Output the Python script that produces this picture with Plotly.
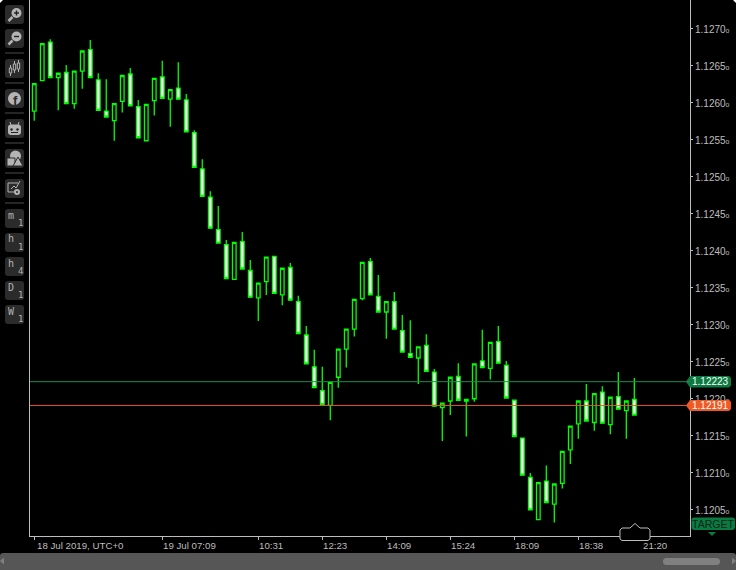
import plotly.graph_objects as go

W, H = 736, 570
opens = [1.12588,1.12629,1.12681,1.12633,1.12640,1.12598,1.12642,1.12671,1.12630,1.12588,1.12575,1.12601,1.12638,1.12594,1.12548,1.12602,1.12634,1.12604,1.12619,1.12603,
1.12559,1.12510,1.12472,1.12428,1.12408,1.12361,1.12412,1.12373,1.12336,1.12358,1.12392,1.12340,1.12377,1.12331,1.12286,1.12243,1.12211,1.12191,1.12229,1.12267,
1.12294,1.12335,1.12385,1.12338,1.12317,1.12331,1.12292,1.12261,1.12255,1.12272,1.12236,1.12188,1.12197,1.12230,1.12197,1.12200,1.12251,1.12241,1.12277,1.12245,
1.12198,1.12147,1.12094,1.12037,1.12089,1.12058,1.12086,1.12131,1.12166,1.12197,1.12168,1.12209,1.12165,1.12203,1.12184,1.12199]
closes = [1.12625,1.12679,1.12633,1.12639,1.12598,1.12642,1.12669,1.12633,1.12589,1.12580,1.12598,1.12636,1.12595,1.12552,1.12597,1.12632,1.12605,1.12617,1.12604,1.12560,
1.12512,1.12473,1.12430,1.12410,1.12362,1.12411,1.12375,1.12337,1.12356,1.12391,1.12342,1.12376,1.12333,1.12288,1.12247,1.12215,1.12192,1.12222,1.12267,1.12294,
1.12334,1.12384,1.12340,1.12317,1.12331,1.12294,1.12263,1.12256,1.12270,1.12237,1.12190,1.12194,1.12229,1.12198,1.12199,1.12247,1.12242,1.12276,1.12248,1.12201,
1.12149,1.12097,1.12050,1.12087,1.12060,1.12085,1.12129,1.12163,1.12197,1.12170,1.12207,1.12167,1.12202,1.12186,1.12197,1.12178]
highs = [1.12625,1.12679,1.12685,1.12639,1.12650,1.12642,1.12669,1.12684,1.12639,1.12631,1.12598,1.12636,1.12646,1.12603,1.12597,1.12632,1.12656,1.12617,1.12654,1.12611,
1.12562,1.12523,1.12480,1.12460,1.12414,1.12411,1.12425,1.12387,1.12356,1.12391,1.12392,1.12376,1.12383,1.12339,1.12298,1.12266,1.12243,1.12222,1.12267,1.12294,
1.12334,1.12384,1.12390,1.12367,1.12331,1.12344,1.12313,1.12306,1.12270,1.12287,1.12240,1.12194,1.12229,1.12248,1.12199,1.12247,1.12293,1.12276,1.12298,1.12251,
1.12199,1.12147,1.12100,1.12087,1.12110,1.12085,1.12129,1.12163,1.12197,1.12220,1.12207,1.12217,1.12202,1.12236,1.12197,1.12228]
lows = [1.12575,1.12629,1.12633,1.12589,1.12598,1.12591,1.12618,1.12633,1.12589,1.12580,1.12548,1.12586,1.12595,1.12552,1.12547,1.12582,1.12605,1.12567,1.12604,1.12560,
1.12512,1.12473,1.12430,1.12410,1.12362,1.12361,1.12375,1.12337,1.12305,1.12340,1.12342,1.12326,1.12333,1.12288,1.12247,1.12215,1.12192,1.12171,1.12215,1.12242,
1.12284,1.12333,1.12340,1.12317,1.12281,1.12294,1.12263,1.12256,1.12220,1.12237,1.12190,1.12143,1.12178,1.12198,1.12149,1.12196,1.12242,1.12226,1.12248,1.12201,
1.12149,1.12097,1.12050,1.12037,1.12060,1.12033,1.12079,1.12112,1.12146,1.12170,1.12157,1.12167,1.12152,1.12186,1.12146,1.12178]
candles = list(range(len(opens)))

price_ticks = [1.1270,1.1265,1.1260,1.1255,1.1250,1.1245,1.1240,1.1235,1.1230,1.1225,1.1220,1.1215,1.1210,1.1205]
price_labels = [f"{p:.4f}<span style='font-size:7px'>o</span>" for p in price_ticks]
time_ticks = [0,16,28,36,44,52,60,68,76]
time_labels = ["18 Jul 2019, UTC+0","19 Jul 07:09","10:31","12:23","14:09","15:24","18:09","18:38","21:20"]
bid, ask = 1.12191, 1.12223
buttons = [("m","1"),("h","1"),("h","4"),("D","1"),("W","1")]

GREY = "#bdbdbd"
FONT = "Liberation Sans"
px = lambda v: v / W
py = lambda v: 1 - v / H
def P(x, y): return f"{px(x):.5f} {py(y):.5f}"
def path(points, close=True):
    return "M " + " L ".join(P(*p) for p in points) + (" Z" if close else "")
def rrect(x0, y0, x1, y1, r):
    k = r
    return (f"M {P(x0+k,y0)} L {P(x1-k,y0)} Q {P(x1,y0)} {P(x1,y0+k)} L {P(x1,y1-k)} Q {P(x1,y1)} {P(x1-k,y1)} "
            f"L {P(x0+k,y1)} Q {P(x0,y1)} {P(x0,y1-k)} L {P(x0,y0+k)} Q {P(x0,y0)} {P(x0+k,y0)} Z")

shapes, notes = [], []
def add(p, fill="rgba(0,0,0,0)", line=None, lw=1, layer="above"):
    shapes.append(dict(type="path", xref="paper", yref="paper", path=p, fillcolor=fill,
                       line=dict(color=line or "rgba(0,0,0,0)", width=lw if line else 0), layer=layer))
def seg(x0, y0, x1, y1, c, lw=1):
    add(path([(x0,y0),(x1,y1)], False), line=c, lw=lw)
def circ(cx, cy, r, fill=None, line=None, lw=1):
    shapes.append(dict(type="circle", xref="paper", yref="paper", x0=px(cx-r), x1=px(cx+r), y0=py(cy+r), y1=py(cy-r),
                       fillcolor=fill or "rgba(0,0,0,0)", line=dict(color=line or "rgba(0,0,0,0)", width=lw if line else 0), layer="above"))
def text(x, y, s, size=10, color=GREY, anchor="center", fam=FONT, **kw):
    notes.append(dict(xref="paper", yref="paper", x=px(x), y=py(y), text=s, showarrow=False, xanchor=anchor, yanchor="middle",
                      font=dict(family=fam, size=size, color=color), borderpad=0, **kw))

# toolbar
BTN, ICON, SEP = "#2b2b2b", "#b4b4b4", "#4a4a4a"
for y in [5,29,59,89,119,149,179,209,233,257,281,305]:
    add(rrect(5,y,24,y+19,3), fill=BTN)
for y in [53,83,113,143,173,203]:
    seg(5,y,24,y,SEP)
for cy, minus in [(13,False),(36.5,True)]:
    circ(16.5,cy,5,fill=ICON)
    seg(12.5,cy+4,8.5,cy+8,ICON,2.5)
    seg(14,cy,19,cy,"#222",1.4)
    if not minus: seg(16.5,cy-2.5,16.5,cy+2.5,"#222",1.4)
for x,t,b,lo,hi in [(10.5,68,73,65,76),(14.5,64,70,61,73),(18.5,63,69,60,72)]:
    seg(x,lo,x,hi,ICON,1); add(path([(x-1.2,t),(x+1.2,t),(x+1.2,b),(x-1.2,b)]),fill=BTN,line=ICON)
circ(14.5,98.5,6.5,fill=ICON)
text(15,100,"<b>f</b>",13,"#2b2b2b",fam="Liberation Sans")
add(rrect(8,124.5,21,135,3),fill=ICON)
seg(10,122,11,125,ICON); seg(19,122,18,125,ICON)
circ(11.5,129.5,1.2,fill="#222"); circ(17.5,129.5,1.2,fill="#222")
seg(11,132.5,18,132.5,"#222")
circ(15.5,156,5.5,fill=ICON)
add(path([(7,158),(15,158),(15,166),(7,166)]),fill=ICON,line=BTN)
add(path([(13,166),(18,157),(23,166)]),fill=ICON,line=BTN)
add(path([(8,183),(8,192),(14,192)],False),line=ICON)
add(path([(8,183),(18,183)],False),line=ICON)
add(path([(11,189),(14,186),(16,188),(20,181)],False),line=ICON)
circ(17,192,3,fill=ICON); circ(17,192,1,fill="#222")
for (a,b),y in zip(buttons,[209,233,257,281,305]):
    text(11,y+6,a,10,ICON,fam="DejaVu Sans Mono")
    text(20,y+14,b,9,ICON,fam="DejaVu Sans Mono")

# price tags
for y0,y1,fc,s in [(376,387.5,"#0d7a41",f"{ask:.5f}"),(400,411,"#ef5a24",f"{bid:.5f}")]:
    mid=(y0+y1)/2
    add(path([(686,mid),(690,y0),(729,y0),(731,y0+2),(731,y1-2),(729,y1),(690,y1)]),fill=fc)
    text(710,mid,s,10,"#ffffff")
# target tag
add(rrect(691.5,517.5,735,530,2.5),fill="#0b7a40")
text(713,524,"TARGET",10.5,"#04261a")
add(path([(708,532),(716,532),(712,536)]),fill="#0b7a40")
# navigator handle
add(path([(622,528),(630,528),(635,523.5),(640,528),(648,528),(650,530),(650,539),(648,540.5),(622,540.5),(620,539),(620,530)]),fill="#000000",line=GREY)
# bottom bar
add(rrect(0,553,736,575,3),fill="#565656")
add(rrect(663,558,720,565,3.5),fill="#808080")
add(path([(4,557.5),(4,564.5),(0,561)]),fill="#808080")
add(path([(732,557.5),(732,564.5),(736,561)]),fill="#808080")
# window corners
add(path([(0,0),(3,0),(0,3)]),fill="#ffffff")
add(path([(733,0),(736,0),(736,3)]),fill="#ffffff")

# level lines
for lv,c in [(ask,"#1f8a50"),(bid,"#e2592a")]:
    shapes.append(dict(type="line", xref="x domain", yref="y", x0=0, x1=1, y0=lv, y1=lv, line=dict(color=c,width=1), layer="above"))

# time labels (left aligned next to the tick, via the axis scale)
for i,(t,s) in enumerate(zip(time_ticks,time_labels)):
    notes.append(dict(xref="x", yref="paper", x=t, y=py(545.5), text=s, showarrow=False, xanchor="left", yanchor="middle", xshift=2 if i==0 else 0,
                      font=dict(family=FONT,size=9.7,color=GREY), borderpad=0))

fig = go.Figure(go.Candlestick(x=candles, open=opens, high=highs, low=lows, close=closes,
    increasing=dict(line=dict(color="#00ff00",width=1.3), fillcolor="#000000"),
    decreasing=dict(line=dict(color="#00ff00",width=1.3), fillcolor="#ffffff"),
    whiskerwidth=0, hoverinfo="skip"))
fig.update_layout(width=W, height=H, margin=dict(l=0,r=0,t=0,b=0,pad=0), autosize=False,
    paper_bgcolor="#000000", plot_bgcolor="#000000", showlegend=False, shapes=shapes, annotations=notes, boxgap=0.35,
    xaxis=dict(domain=[30/W,690/W], range=[-0.53,81.96], rangeslider=dict(visible=False), showgrid=False, zeroline=False,
               showline=True, linecolor=GREY, linewidth=1, ticks="outside", ticklen=3, tickcolor=GREY,
               tickvals=time_ticks, ticktext=[""]*len(time_ticks)),
    yaxis=dict(domain=[1-536/H,1], range=[1.120149,1.127378], side="right", showgrid=False, zeroline=False,
               showline=True, mirror=True, linecolor=GREY, linewidth=1, ticks="outside", ticklen=2, tickcolor=GREY,
               ticklabelshift=1, tickvals=price_ticks, ticktext=price_labels, tickfont=dict(family=FONT,size=10,color=GREY)))
fig.write_html("out.html", config=dict(displayModeBar=False, staticPlot=True),
               post_script="document.body.style.margin='0';document.body.style.overflow='hidden';")
